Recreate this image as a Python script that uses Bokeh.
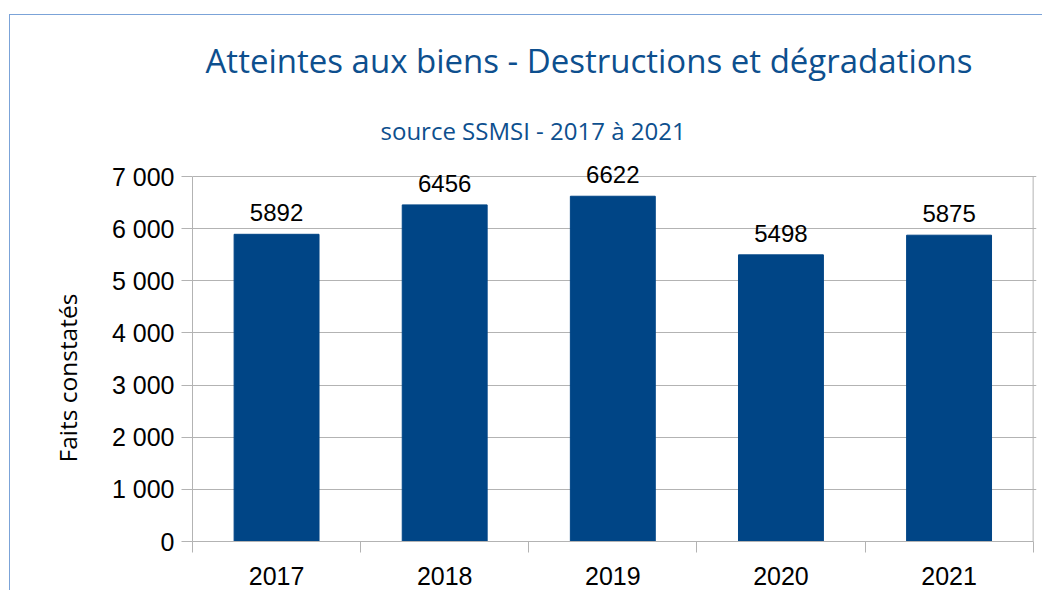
from bokeh.plotting import figure
from bokeh.models import ColumnDataSource, Range1d, FixedTicker, Title
from bokeh.core.properties import value
from bokeh.embed import file_html
from bokeh.resources import INLINE

years = ["2017", "2018", "2019", "2020", "2021"]
counts = [5892, 6456, 6622, 5498, 5875]
y_ticks = [0, 1000, 2000, 3000, 4000, 5000, 6000, 7000]
y_tick_labels = ["0", "1 000", "2 000", "3 000", "4 000", "5 000", "6 000", "7 000"]
title_text = "Atteintes aux biens - Destructions et dégradations"
subtitle_text = "source SSMSI - 2017 à 2021"
y_label = "Faits constatés"

BAR = "#004586"
BLUE_TXT = "#0d4f8e"
GRID = "#b3b3b3"
FONT = "Liberation Sans"

n = len(years)
pos = [i + 0.5 for i in range(n)]
src = ColumnDataSource(dict(x=pos, top=counts, lab=[str(c) for c in counts]))

p = figure(width=1033, height=576, output_backend="svg", toolbar_location=None,
           x_range=Range1d(0, n + 0.02), y_range=Range1d(0, y_ticks[-1] + 250),
           min_border_left=182, min_border_right=7, min_border_top=148, min_border_bottom=50)
p.styles = {"border-left": "1px solid #7ba3d8", "border-top": "1px solid #7ba3d8",
            "margin-top": "14px", "margin-left": "9px"}

p.vbar(x="x", top="top", width=0.505, source=src, color=BAR)
p.text(x="x", y="top", text="lab", source=src, text_align="center", text_baseline="bottom",
       y_offset=-13, text_font=value(FONT), text_font_size="24px", text_color="black")
# right border of the plot area
p.segment(x0=[n], y0=[y_ticks[0]], x1=[n], y1=[y_ticks[-1]], line_color=GRID, line_width=1)

# x axis
p.xaxis.ticker = FixedTicker(ticks=pos, minor_ticks=list(range(n + 1)))
p.xaxis.major_label_overrides = {x: y for x, y in zip(pos, years)}
p.xaxis.bounds = (0, n)
p.xaxis.major_tick_in = 0
p.xaxis.major_tick_out = 0
p.xaxis.minor_tick_in = 0
p.xaxis.minor_tick_out = 11
p.xaxis.minor_tick_line_color = GRID
p.xaxis.axis_line_color = GRID
p.xaxis.major_label_standoff = 14
p.xaxis.major_label_text_line_height = 1.0
p.xaxis.major_label_text_font = FONT
p.xaxis.major_label_text_font_size = "25px"
p.xaxis.major_label_text_color = "black"

# y axis
p.yaxis.ticker = FixedTicker(ticks=y_ticks)
p.yaxis.major_label_overrides = {t: l for t, l in zip(y_ticks, y_tick_labels)}
p.yaxis.bounds = (y_ticks[0], y_ticks[-1])
p.yaxis.major_tick_in = 0
p.yaxis.major_tick_out = 11
p.yaxis.major_tick_line_color = GRID
p.yaxis.minor_tick_line_color = None
p.yaxis.axis_line_color = GRID
p.yaxis.major_label_standoff = 7
p.yaxis.major_label_text_font = FONT
p.yaxis.major_label_text_font_size = "25px"
p.yaxis.major_label_text_color = "black"

p.xgrid.grid_line_color = None
p.ygrid.grid_line_color = GRID
p.ygrid.bounds = (0, n)
p.outline_line_color = None
p.background_fill_color = "white"
p.border_fill_color = "white"

p.add_layout(Title(text=y_label, align="left", offset=79, standoff=50,
                   text_font="Open Sans", text_font_size="24.5px", text_font_style="normal",
                   text_color="black"), "left")
p.add_layout(Title(text=subtitle_text, align="left", offset=188, standoff=34,
                   text_font="Open Sans", text_font_size="24px", text_font_style="normal",
                   text_color=BLUE_TXT), "above")
p.add_layout(Title(text=title_text, align="left", offset=13, standoff=23,
                   text_font="Open Sans", text_font_size="33px", text_font_style="normal",
                   text_color=BLUE_TXT), "above")

open("out.html", "w").write(file_html(p, INLINE))
